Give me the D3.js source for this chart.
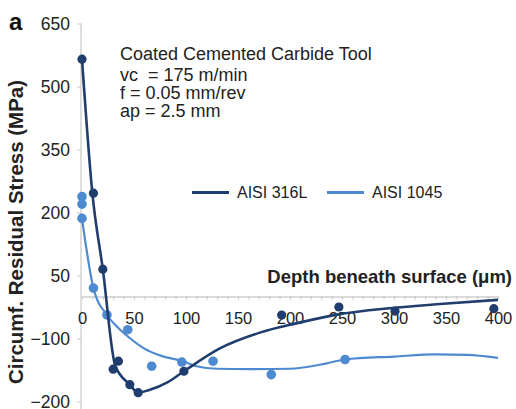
<!DOCTYPE html>
<html><head><meta charset="utf-8">
<script src="https://cdn.jsdelivr.net/npm/d3@7/dist/d3.min.js"></script>
<style>
body{margin:0;background:#fff}
svg{display:block}
text{font-family:"Liberation Sans",Arial,Helvetica,sans-serif}
</style>
</head><body>
<svg id="chart" width="516" height="409"></svg>
<script>
// ---- data ----
const xTickValues = [0, 50, 100, 150, 200, 250, 300, 350, 400];
const yTickValues = [650, 500, 350, 200, 50, -100, -250];
const yTickLabels = ["650", "500", "350", "200", "50", "\u2212100", "\u2212200"];
const seriesNames = ["AISI 316L", "AISI 1045"];
const annotationLines = ["Coated Cemented Carbide Tool", "vc  = 175 m/min", "f = 0.05 mm/rev", "ap = 2.5 mm"];

// measured points
const pts316Depth  = [0, 11, 20, 30, 35, 46, 54, 98, 192, 247, 301, 396];
const pts316Stress = [565, 246, 65, -173, -154, -210, -229, -178, -44, -25, -35, -29];
const pts1045Depth  = [0, 0, 0, 11, 24, 44, 67, 96, 126, 182, 253];
const pts1045Stress = [238, 220, 186, 20, -44, -79, -166, -156, -154, -186, -150];

// fitted trend curves
const fit316Depth  = [0, 10, 20, 32, 46, 54, 64, 83, 98, 133, 171, 206, 248, 296, 344, 400];
const fit316Stress = [565, 245, 65, -165, -210, -229, -223, -203, -178, -123, -86, -64, -42, -28, -18, -8];
const fit1045Depth  = [0, 11, 24, 35, 45, 60, 77, 96, 110, 130, 160, 200, 230, 253, 300, 340, 370, 400];
const fit1045Stress = [186, 20, -44, -75, -97, -124, -142, -153, -166, -172, -173, -172, -162, -150, -143, -138, -139, -146];

const colors = ["#1f3d6d", "#4d8ad0"];

// ---- drawing ----
const svg = d3.select("#chart");
const x = d3.scaleLinear().domain([0, 400]).range([82, 498]);
const y = d3.scaleLinear().domain([-250, 650]).range([401.5, 23.5]);

// y axis
const yAxis = svg.append("g").attr("transform", "translate(81,0)")
  .call(d3.axisLeft(y).tickValues(yTickValues)
    .tickFormat((d, i) => yTickLabels[i]).tickSize(4).tickSizeOuter(0).tickPadding(7));
yAxis.select(".domain").attr("stroke", "#d3d3d3").attr("stroke-width", 1.5)
  .attr("d", `M0,${y(650)}V409`);
yAxis.selectAll(".tick line").attr("stroke", "#c8c8c8");
yAxis.selectAll("text").attr("font-size", "17.5px").attr("fill", "#222")
  .attr("font-family", "'Liberation Sans', Arial, sans-serif");

// x axis minor ticks
const x0 = y(0);
const xMinor = svg.append("g").attr("transform", `translate(0,${x0})`)
  .call(d3.axisBottom(x).ticks(40).tickFormat("").tickSize(3).tickSizeOuter(0));
xMinor.select(".domain").attr("stroke", "#cfcfcf").attr("stroke-width", 1.5);
xMinor.selectAll(".tick line").attr("stroke", "#c4c4c4");

// x axis labels
const xAxis = svg.append("g").attr("transform", `translate(0,${x0})`)
  .call(d3.axisBottom(x).tickValues(xTickValues).tickSize(0).tickPadding(15.5));
xAxis.select(".domain").remove();
xAxis.selectAll("text").attr("font-size", "16.5px").attr("fill", "#222")
  .attr("font-family", "'Liberation Sans', Arial, sans-serif");

// axis titles
svg.append("text").attr("x", 512).attr("y", 282.5).attr("text-anchor", "end")
  .attr("font-size", "18.5px").attr("font-weight", "bold").attr("fill", "#222")
  .text("Depth beneath surface (\u03bcm)");
svg.append("text").attr("transform", "translate(23,232) rotate(-90)")
  .attr("text-anchor", "middle").attr("font-size", "20.5px").attr("font-weight", "bold").attr("fill", "#222")
  .text("Circumf. Residual Stress (MPa)");
svg.append("text").attr("x", 9).attr("y", 30)
  .attr("font-size", "24px").attr("font-weight", "bold").attr("fill", "#111").text("a");

// annotation
const annBase = [60, 80.5, 99, 117];
svg.append("g").selectAll("text").data(annotationLines).join("text")
  .attr("x", 120).attr("y", (d, i) => annBase[i])
  .attr("font-size", "18px").attr("fill", "#222")
  .style("white-space", "pre").attr("xml:space", "preserve")
  .text(d => d);

// series
const line = d3.line().x(d => x(d[0])).y(d => y(d[1])).curve(d3.curveMonotoneX);
const fits = [d3.zip(fit316Depth, fit316Stress), d3.zip(fit1045Depth, fit1045Stress)];
const pts = [d3.zip(pts316Depth, pts316Stress), d3.zip(pts1045Depth, pts1045Stress)];
const widths = [2.6, 2.2];
const radii = [4.6, 4.8];

[1, 0].forEach(s => {
  svg.append("path").datum(fits[s]).attr("d", line)
    .attr("fill", "none").attr("stroke", colors[s]).attr("stroke-width", widths[s])
    .attr("stroke-linejoin", "round");
  svg.append("g").selectAll("circle").data(pts[s]).join("circle")
    .attr("cx", d => x(d[0])).attr("cy", d => y(d[1])).attr("r", radii[s])
    .attr("fill", colors[s]);
});

// legend
const legX = [192, 327];
const leg = svg.append("g");
seriesNames.forEach((name, i) => {
  leg.append("line").attr("x1", legX[i]).attr("x2", legX[i] + 37)
    .attr("y1", 192.5).attr("y2", 192.5)
    .attr("stroke", colors[i]).attr("stroke-width", 3);
  leg.append("text").attr("x", legX[i] + 45).attr("y", 198.3)
    .attr("font-size", "16px").attr("fill", "#222").text(name);
});
</script>
</body></html>
